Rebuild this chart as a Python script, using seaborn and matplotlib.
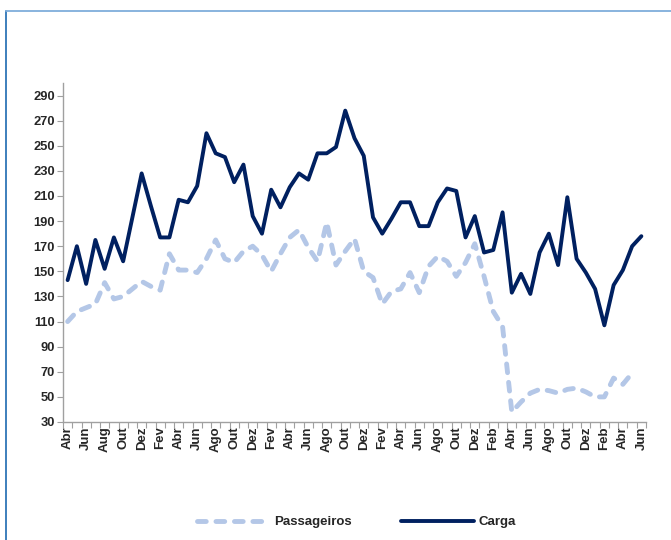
import numpy as np
import pandas as pd
import matplotlib
matplotlib.use("Agg")
import matplotlib.pyplot as plt
import seaborn as sns
from matplotlib.lines import Line2D

# ---- data (monthly, Abr of year 1 .. Jun of year 6) ----
passageiros = [110, 118, 121, 124, 141, 128, 130, 136, 142, 138,
               135, 164, 151, 151, 149, 160, 175, 160, 157, 166,
               170, 163, 150, 164, 177, 183, 169, 158, 189, 155,
               166, 176, 150, 145, 124, 134, 136, 149, 133, 154,
               162, 158, 146, 157, 172, 146, 118, 106, 38, 46,
               53, 56, 55, 53, 56, 57, 54, 50, 50, 65,
               60, 69, np.nan]
carga = [143, 170, 140, 175, 152, 177, 158, 193, 228, 202,
         177, 177, 207, 205, 218, 260, 244, 241, 221, 235,
         194, 180, 215, 201, 217, 228, 223, 244, 244, 249,
         278, 256, 242, 193, 180, 192, 205, 205, 186, 186,
         205, 216, 214, 177, 194, 165, 167, 197, 133, 148,
         132, 165, 180, 155, 209, 160, 149, 136, 107, 139,
         151, 170, 178]
tick_labels = ['Abr', 'Jun', 'Aug', 'Out', 'Dez', 'Fev', 'Abr', 'Jun', 'Ago', 'Out',
               'Dez', 'Fev', 'Abr', 'Jun', 'Ago', 'Out', 'Dez', 'Fev', 'Abr', 'Jun',
               'Ago', 'Out', 'Dez', 'Feb', 'Abr', 'Jun', 'Ago', 'Out', 'Dez', 'Feb',
               'Abr', 'Jun']
y_ticks = list(range(30, 291, 20))
series_names = ['Passageiros', 'Carga']
series_colors = ['#B4C7E7', '#002060']

sns.set_theme(style="white")
plt.rcParams['font.family'] = ['Liberation Sans', 'DejaVu Sans']

fig = plt.figure(figsize=(6.71, 5.4), dpi=100)
ax = fig.add_axes([63 / 671, 1 - 422 / 540, (646 - 63) / 671, (422 - 83) / 540])

x = np.arange(len(carga))
df = pd.DataFrame({'mes': x, 'Passageiros': passageiros, 'Carga': carga})

sns.lineplot(data=df, x='mes', y='Passageiros', ax=ax, color=series_colors[0],
             lw=3.5, label=series_names[0])
lp = ax.lines[-1]
lp.set_dashes([1.8, 2.0])
lp.set_dash_capstyle('round')
sns.lineplot(data=df, x='mes', y='Carga', ax=ax, color=series_colors[1],
             lw=2.8, label=series_names[1])
lc = ax.lines[-1]
lc.set_solid_joinstyle('round')
lc.set_solid_capstyle('round')

ax.set_xlim(-0.5, len(carga) - 0.5)
ax.set_ylim(30, 300)
ax.set_xlabel('')
ax.set_ylabel('')

ax.set_xticks(np.arange(0, len(carga), 2))
ax.set_xticklabels(tick_labels, rotation=90, fontsize=9.5, fontweight='bold')
ax.set_xticks(np.arange(-0.5, len(carga), 1), minor=True)
ax.tick_params(axis='x', which='major', length=0, pad=3)
ax.tick_params(axis='x', which='minor', length=4, width=0.8, color='#A0A0A0', direction='out', bottom=True)

ax.set_yticks(y_ticks)
ax.set_yticklabels([str(v) for v in y_ticks], fontsize=9.3, fontweight='bold')
ax.tick_params(axis='y', which='major', length=4, width=0.8, color='#A0A0A0', direction='out', left=True, pad=2)

for s in ['top', 'right']:
    ax.spines[s].set_visible(False)
for s in ['left', 'bottom']:
    ax.spines[s].set_color('#A0A0A0')
    ax.spines[s].set_linewidth(1.0)
ax.grid(False)

handles, labels = ax.get_legend_handles_labels()
if ax.legend_:
    ax.legend_.remove()
leg = fig.legend(handles, labels, loc='center', bbox_to_anchor=(0.531, 1 - 522 / 540),
                 ncol=2, frameon=False, handlelength=5.5, columnspacing=3.8,
                 handletextpad=0.3, prop={'weight': 'bold', 'size': 9.5})

# outer blue frame (partially visible)
fig.add_artist(Line2D([6 / 671, 6 / 671], [0, 1 - 11 / 540], transform=fig.transFigure,
                      color='#2E75B6', lw=1.3))
fig.add_artist(Line2D([6 / 671, 1], [1 - 11 / 540, 1 - 11 / 540], transform=fig.transFigure,
                      color='#7FAEDB', lw=1.3))

fig.savefig('out.png', dpi=100)
